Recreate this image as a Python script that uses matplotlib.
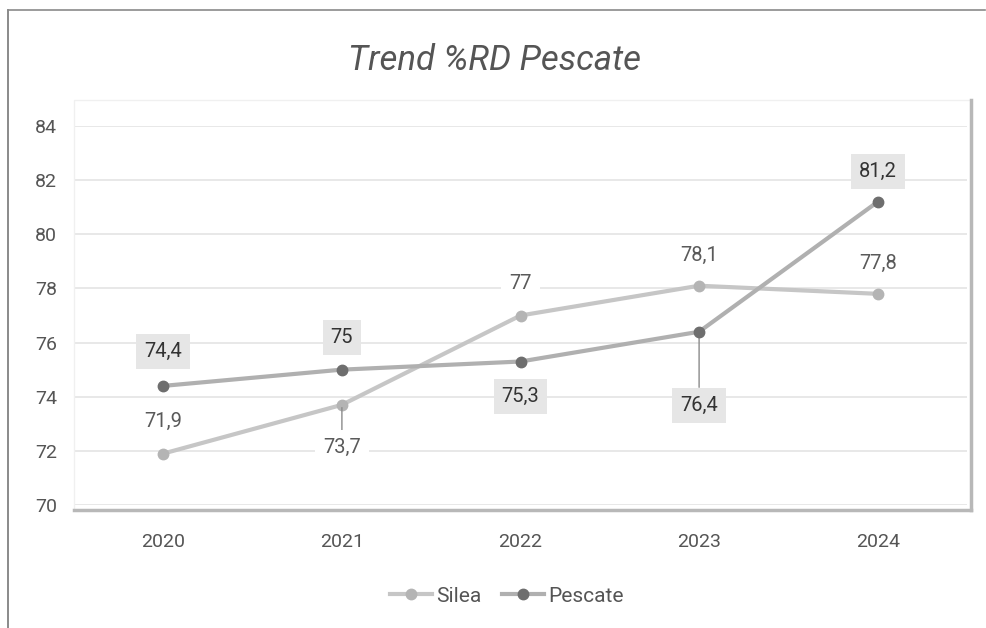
import matplotlib.pyplot as plt
from matplotlib.patches import Rectangle
from matplotlib.lines import Line2D

plt.rcParams['font.family'] = ['Roboto', 'DejaVu Sans']

years = ['2020', '2021', '2022', '2023', '2024']
silea = [71.9, 73.7, 77.0, 78.1, 77.8]
pescate = [74.4, 75.0, 75.3, 76.4, 81.2]
silea_lbl = ['71,9', '73,7', '77', '78,1', '77,8']
pescate_lbl = ['74,4', '75', '75,3', '76,4', '81,2']
# label offsets in points (positive = above)
silea_off = [23, -31, 23, 22, 22]
pescate_off = [25, 23, -25, -53, 22]
yticks = [70, 72, 74, 76, 78, 80, 82, 84]

fig = plt.figure(figsize=(9.87, 6.28), dpi=100)
ax = fig.add_axes([74/987, 123/628, (967-74)/987, (505-126)/628])

x = list(range(len(years)))
ax.plot(x, silea, color='#c6c6c6', lw=3, marker='o', ms=7.5,
        mfc='#b4b4b4', mec='#b4b4b4', zorder=3, label='Silea')
ax.plot(x, pescate, color='#b0b0b0', lw=3, marker='o', ms=7.5,
        mfc='#6e6e6e', mec='#6e6e6e', zorder=4, label='Pescate')

for i in x:
    off = silea_off[i]
    ax.annotate(silea_lbl[i], (i, silea[i]), xytext=(0, off), textcoords='offset points',
                ha='center', va='center', fontsize=14.5, color='#5a5a5a', zorder=6,
                bbox=dict(boxstyle='square,pad=0.4', fc='white', ec='none'))
    if off < -25:
        ax.annotate('', (i, silea[i]), xytext=(0, off + 11), textcoords='offset points',
                    arrowprops=dict(arrowstyle='-', color='#8a8a8a', lw=1))
    off = pescate_off[i]
    ax.annotate(pescate_lbl[i], (i, pescate[i]), xytext=(0, off), textcoords='offset points',
                ha='center', va='center', fontsize=14.5, color='#333333', zorder=6,
                bbox=dict(boxstyle='square,pad=0.4', fc='#e6e6e6', ec='none'))
    if off < -25:
        ax.annotate('', (i, pescate[i]), xytext=(0, off + 11), textcoords='offset points',
                    arrowprops=dict(arrowstyle='-', color='#8a8a8a', lw=1))

ax.set_xlim(-0.5, 4.5)
ax.set_ylim(70, 84)
ax.set_yticks(yticks)
ax.set_xticks(x)
ax.set_xticklabels(years)
ax.tick_params(length=0, labelsize=14, colors='#555555')
ax.tick_params(axis='x', pad=20)
ax.tick_params(axis='y', pad=12)
ax.grid(axis='y', color='#e4e4e4', lw=1.2)
ax.set_axisbelow(True)
for s in ax.spines.values():
    s.set_visible(False)

# plot area frame with shadow on right and bottom
fig.patches.append(Rectangle((74/987, 118/628), (971-74)/987, (528-118)/628,
                             transform=fig.transFigure, fill=False,
                             ec='#f0f0f0', lw=1, zorder=0))
fig.add_artist(Line2D([971/987, 971/987], [118/628, 528/628], color='#b8b8b8', lw=2.5))
fig.add_artist(Line2D([74/987, 971/987], [118/628, 118/628], color='#b8b8b8', lw=2.5))

# outer chart border
fig.add_artist(Line2D([8/987, 8/987], [0, 618/628], color='#777777', lw=1.2))
fig.add_artist(Line2D([8/987, 985/987], [618/628, 618/628], color='#8a8a8a', lw=1.2))

fig.text(495/987, 1 - 60/628, 'Trend %RD Pescate', ha='center', va='center',
         fontsize=25, style='italic', color='#555555')

fig.legend(loc='center', bbox_to_anchor=(507/987, 1 - 596/628), ncol=2, frameon=False,
           fontsize=15, labelcolor='#555555', handlelength=2.0, columnspacing=1.0,
           handletextpad=0.2)

fig.savefig('out.png', dpi=100)
